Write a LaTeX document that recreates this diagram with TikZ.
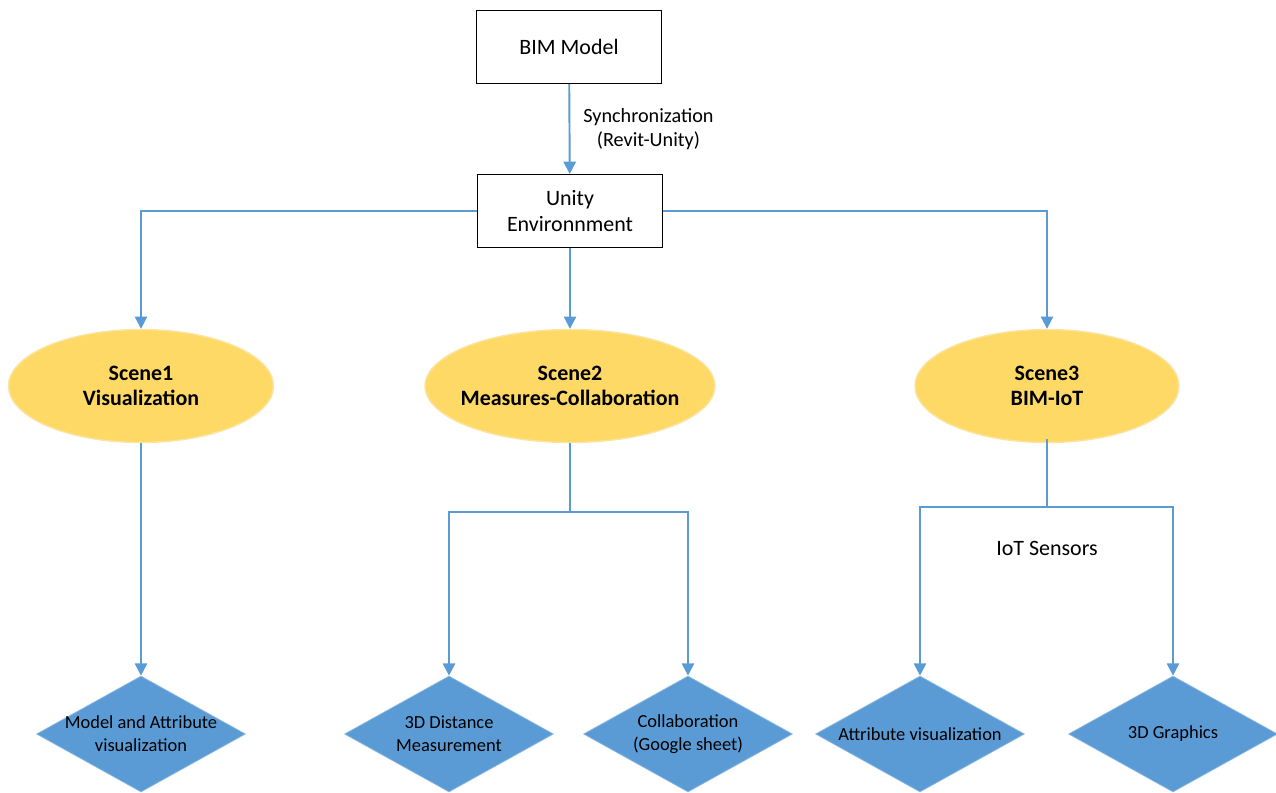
\documentclass[tikz,border=0pt]{standalone}
\usepackage{fontspec}
\setmainfont{Carlito}
\usetikzlibrary{arrows.meta,shapes.geometric}
\definecolor{linkblue}{RGB}{91,155,213}
\definecolor{scenefill}{RGB}{255,217,102}
\definecolor{sceneedge}{RGB}{250,228,160}
\tikzset{
  box/.style={draw=black,line width=0.6pt,fill=white,minimum width=3.7cm,minimum height=1.46cm,align=center,font=\fontsize{12.5}{14.7}\selectfont},
  scene/.style={ellipse,fill=scenefill,draw=sceneedge,line width=0.8pt,inner sep=0pt,minimum height=2.26cm},
  scenetext/.style={align=center,font=\fontsize{12.5}{14.2}\selectfont\bfseries},
  leaf/.style={diamond,fill=linkblue,draw=linkblue!70!white,line width=0.4pt,inner sep=0pt,minimum width=4.18cm,minimum height=2.32cm},
  leaftext/.style={align=center,font=\fontsize{10.5}{13}\selectfont},
  link/.style={draw=linkblue,line width=1.1pt,-{Triangle[length=7pt,width=7pt]}},
  wire/.style={draw=linkblue,line width=1.1pt}
}
\begin{document}
\begin{tikzpicture}[x=0.02cm,y=-0.02cm]
\useasboundingbox (0,0) rectangle (1276,792);
% top
\node[box] (bim) at (569,47) {BIM Model};
\node[box] (unity) at (570,211) {Unity\\Environnment};
\draw[link] (bim) -- (unity) node[midway,right=4pt,align=center,font=\fontsize{11.5}{13.6}\selectfont] {Synchronization\\(Revit-Unity)};
% scenes
\node[scene,minimum width=5.3cm,label={[scenetext]center:Scene1\\Visualization}] (scene1) at (141,386) {};
\node[scene,minimum width=5.8cm,label={[scenetext]center:Scene2\\Measures-Collaboration}] (scene2) at (570,386) {};
\node[scene,minimum width=5.28cm,label={[scenetext]center:Scene3\\BIM-IoT}] (scene3) at (1047,386) {};
\draw[link] (unity.west) -| (scene1.north);
\draw[link] (unity.south) -- (scene2.north);
\draw[link] (unity.east) -| (scene3.north);
% outputs
\node[leaf,label={[leaftext]center:Model and Attribute\\visualization}] (out11) at (141,734) {};
\node[leaf,label={[leaftext]center:3D Distance\\Measurement}] (out21) at (449,734) {};
\node[leaf,label={[leaftext]center:Collaboration\\(Google sheet)}] (out22) at (688,734) {};
\node[leaf,label={[leaftext]center:Attribute visualization}] (out31) at (920,734) {};
\node[leaf,label={[leaftext]center:3D Graphics}] (out32) at (1173,734) {};
\coordinate (j2) at (570,512);
\coordinate (j3) at (1047,507);
\draw[link] (scene1.south) -- (out11.north);
\draw[wire] (scene2.south) -- (j2);
\draw[link] (j2) -| (out21.north);
\draw[link] (j2) -| (out22.north);
\draw[wire] (scene3.south) ++(0,-4) -- (j3);
\draw[link] (j3) -| (out31.north);
\draw[link] (j3) -| (out32.north);
\node[font=\fontsize{12.5}{14.7}\selectfont] (iot) at (1047,548) {IoT Sensors};
\end{tikzpicture}
\end{document}
